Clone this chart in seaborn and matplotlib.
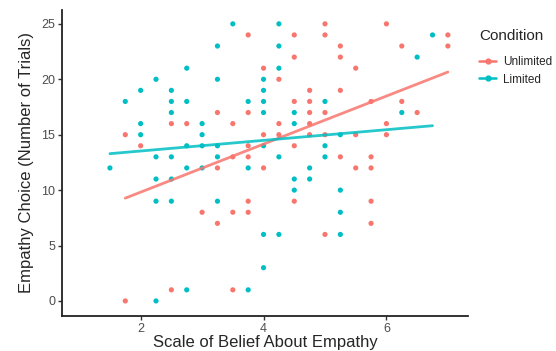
import numpy as np
import pandas as pd
import matplotlib
matplotlib.use("Agg")
import matplotlib.pyplot as plt
from matplotlib.lines import Line2D
import seaborn as sns

# ---- data ----
unlimited_x = [1.75, 1.75, 2, 2.5, 2.5, 2.75, 3, 3.25, 3.25, 3.25,
               3.5, 3.5, 3.5, 3.5, 3.75, 3.75, 3.75, 3.75, 3.75, 3.75,
               4, 4, 4, 4.25, 4.25, 4.25, 4.5, 4.5, 4.5, 4.5, 4.5,
               4.75, 4.75, 4.75, 4.75, 4.75, 5, 5, 5, 5, 5,
               5.25, 5.25, 5.25, 5.25, 5.5, 5.5, 5.5,
               5.75, 5.75, 5.75, 5.75, 5.75, 6, 6, 6, 6.25, 6.25, 6.5, 7, 7]
unlimited_y = [0, 15, 14, 16, 1, 16, 8, 17, 12, 7,
               16, 13, 8, 1, 24, 17, 14, 13, 9, 8,
               21, 15, 12, 20, 16, 15, 24, 22, 18, 14, 9,
               19, 18, 17, 16, 15, 25, 24, 17, 15, 6,
               23, 22, 19, 13, 21, 15, 12,
               18, 13, 12, 9, 7, 25, 16, 15, 23, 18, 17, 24, 23]

limited_x = [1.5, 1.75, 2, 2, 2, 2.25, 2.25, 2.25, 2.25, 2.25,
             2.5, 2.5, 2.5, 2.5, 2.5, 2.5, 2.75, 2.75, 2.75, 2.75, 2.75,
             3, 3, 3, 3, 3.25, 3.25, 3.25, 3.25, 3.25, 3.5,
             3.75, 3.75, 3.75, 4, 4, 4, 4, 4, 4, 4,
             4.25, 4.25, 4.25, 4.25, 4.25, 4.5, 4.5, 4.5, 4.5,
             4.75, 4.75, 5, 5, 5, 5.25, 5.25, 5.25, 5.25, 6.25, 6.5, 6.75]
limited_y = [12, 18, 19, 16, 15, 20, 13, 11, 9, 0,
             19, 18, 17, 13, 11, 9, 21, 18, 14, 12, 1,
             16, 15, 14, 12, 23, 20, 14, 13, 9, 25,
             18, 12, 1, 20, 19, 18, 17, 14, 6, 3,
             25, 23, 21, 13, 6, 17, 16, 11, 10,
             12, 11, 18, 14, 13, 15, 10, 8, 6, 17, 22, 24]

conditions = ["Unlimited", "Limited"]
palette = {"Unlimited": "#F8766D", "Limited": "#00BFC4"}

df = pd.concat([
    pd.DataFrame({"belief": unlimited_x, "choice": unlimited_y, "Condition": "Unlimited"}),
    pd.DataFrame({"belief": limited_x, "choice": limited_y, "Condition": "Limited"}),
], ignore_index=True)

# ---- figure ----
sns.set_style("white")
plt.rcParams['font.family'] = ['Liberation Sans', 'DejaVu Sans']

fig = plt.figure(figsize=(5.56, 3.51), dpi=100)
ax = fig.add_axes([0.1115, 0.100, 0.7305, 0.8715])

sns.scatterplot(data=df, x="belief", y="choice", hue="Condition",
                palette=palette, s=14, linewidth=0, ax=ax, legend=False, zorder=2)

for cond in conditions:
    sub = df[df["Condition"] == cond]
    sns.regplot(data=sub, x="belief", y="choice", scatter=False, ci=None,
                truncate=True, color=palette[cond],
                line_kws={"linewidth": 2.0, "alpha": 0.85, "zorder": 3}, ax=ax)

ax.set_xlim(0.72, 7.33)
ax.set_ylim(-1.35, 26.25)
ax.set_xticks([2, 4, 6])
ax.set_yticks([0, 5, 10, 15, 20, 25])
ax.tick_params(axis="both", labelsize=9, labelcolor="#4D4D4D",
               length=3, width=1, color="#333333", direction="out",
               bottom=True, left=True, pad=2)
for side in ["top", "right"]:
    ax.spines[side].set_visible(False)
for side in ["left", "bottom"]:
    ax.spines[side].set_color("#222222")
    ax.spines[side].set_linewidth(1.3)

ax.set_xlabel("Scale of Belief About Empathy", fontsize=12, labelpad=0)
ax.set_ylabel("Empathy Choice (Number of Trials)", fontsize=12, labelpad=5)

handles = [Line2D([0], [0], color=palette[c], marker="o", markersize=3.5,
                  linewidth=1.8) for c in conditions]
leg = fig.legend(handles, conditions, title="Condition", frameon=False,
                 loc="upper left", bbox_to_anchor=(0.843, 0.947),
                 fontsize=8.5, title_fontsize=11, handlelength=1.4,
                 handletextpad=0.6, labelspacing=0.5)
leg._legend_box.align = "left"
leg._legend_box.sep = 9

fig.savefig("out.png", dpi=100)
